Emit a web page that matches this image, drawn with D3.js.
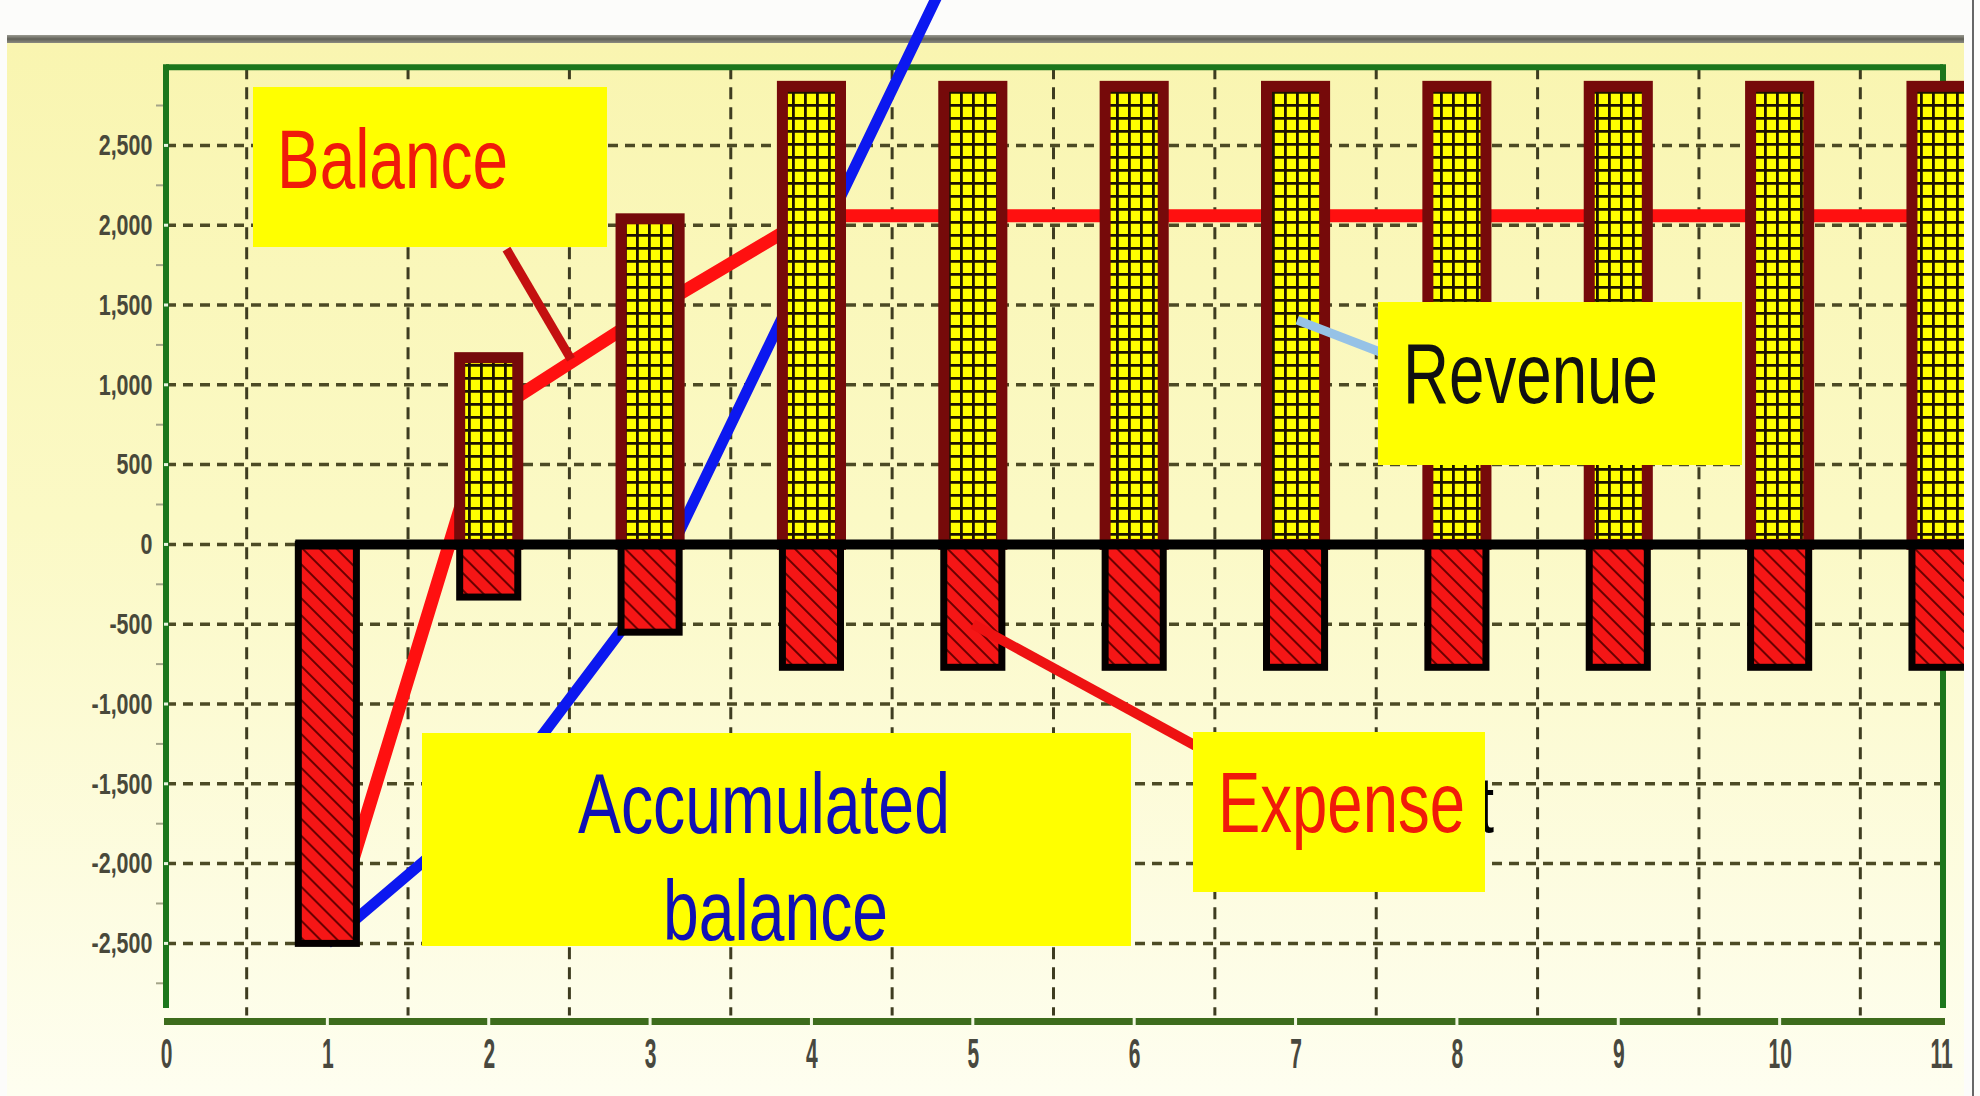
<!DOCTYPE html>
<html><head><meta charset="utf-8">
<script src="https://cdn.jsdelivr.net/npm/d3@7"></script>
<style>html,body{margin:0;padding:0;background:#fff;overflow:hidden}</style>
</head><body>
<svg id="chart" width="1980" height="1096"></svg>
<script>
// ---- data ----
const periods = [1, 2, 3, 4, 5, 6, 7, 8, 9, 10, 11];
const revenue = [0, 1170, 2040, 2870, 2870, 2870, 2870, 2870, 2870, 2870, 2870];
const expense = [-2500, -330, -550, -770, -770, -770, -770, -770, -770, -770, -770];
const balance = [-2500, 810, 1460, 2060, 2060, 2060, 2060, 2060, 2060, 2060, 2060];
const accumulatedPeriods = [1, 2, 3, 4, 5];
const accumulated = [-2500, -1640, -300, 1800, 3900];
const yTickValues = [-2500, -2000, -1500, -1000, -500, 0, 500, 1000, 1500, 2000, 2500];
const yMinorTickValues = [-2750, -2250, -1750, -1250, -750, -250, 250, 750, 1250, 1750, 2250, 2750];
const xTickValues = [0, 1, 2, 3, 4, 5, 6, 7, 8, 9, 10, 11];
const xGridValues = [0.5, 1.5, 2.5, 3.5, 4.5, 5.5, 6.5, 7.5, 8.5, 9.5, 10.5];
const labelBalance = "Balance";
const labelRevenue = "Revenue";
const labelExpense = "Expense";
const labelAccumulated = ["Accumulated", "balance"];

// ---- scales ----
const yLimit = 2990;
const x = d3.scaleLinear().domain([0, 11]).range([166, 1941]);
const y = d3.scaleLinear().domain([-yLimit, yLimit]).range([1021.6, 67.2]);

const svg = d3.select("#chart");
const defs = svg.append("defs");
const FONT = "'Liberation Sans', Arial, sans-serif";

const bg = defs.append("linearGradient").attr("id", "bg").attr("x1", 0).attr("y1", 0).attr("x2", 0).attr("y2", 1);
bg.append("stop").attr("offset", "0%").attr("stop-color", "#f9f5b0");
bg.append("stop").attr("offset", "45%").attr("stop-color", "#fbf9c5");
bg.append("stop").attr("offset", "100%").attr("stop-color", "#fefef0");

const grayBar = defs.append("linearGradient").attr("id", "gbar").attr("x1", 0).attr("y1", 0).attr("x2", 0).attr("y2", 1);
grayBar.append("stop").attr("offset", "0%").attr("stop-color", "#9a9a90");
grayBar.append("stop").attr("offset", "50%").attr("stop-color", "#626258");
grayBar.append("stop").attr("offset", "100%").attr("stop-color", "#8a8a80");

const grid = defs.append("pattern").attr("id", "grid").attr("patternUnits", "userSpaceOnUse").attr("width", 12).attr("height", 13);
grid.append("rect").attr("width", 12).attr("height", 13).attr("fill", "#ffff00");
grid.append("path").attr("d", "M0,1.4H12M1.4,0V13").attr("stroke", "#1c1200").attr("stroke-width", 2.8);

const hatch = defs.append("pattern").attr("id", "hatch").attr("patternUnits", "userSpaceOnUse")
  .attr("width", 12).attr("height", 12).attr("patternTransform", "rotate(-45)");
hatch.append("rect").attr("width", 12).attr("height", 12).attr("fill", "#f51616");
hatch.append("line").attr("x1", 6).attr("y1", 0).attr("x2", 6).attr("y2", 12).attr("stroke", "#6a0000").attr("stroke-width", 2);

defs.append("clipPath").attr("id", "clipR").append("rect").attr("x", 0).attr("y", 0).attr("width", 1964).attr("height", 1096);

// ---- background ----
svg.append("rect").attr("width", 1980).attr("height", 1096).attr("fill", "#fcfcfa");
svg.append("rect").attr("x", 7).attr("y", 43).attr("width", 1957).attr("height", 1053).attr("fill", "url(#bg)");
svg.append("rect").attr("x", 7).attr("y", 35).attr("width", 1957).attr("height", 8).attr("fill", "url(#gbar)");
svg.append("line").attr("x1", 1973).attr("x2", 1973).attr("y1", 0).attr("y2", 1096).attr("stroke", "#666").attr("stroke-width", 2);

// ---- gridlines ----
const gridG = svg.append("g");
gridG.selectAll("line.h").data(yTickValues).join("line").attr("class", "h")
  .attr("x1", x(0)).attr("x2", x(11)).attr("y1", d => y(d)).attr("y2", d => y(d))
  .attr("stroke", "#4c4a24").attr("stroke-width", 3.5).attr("stroke-dasharray", "10,7");
gridG.selectAll("line.v").data(xGridValues).join("line").attr("class", "v")
  .attr("x1", d => x(d)).attr("x2", d => x(d)).attr("y1", y(yLimit)).attr("y2", y(-yLimit) - 6)
  .attr("stroke", "#3e3c20").attr("stroke-width", 3).attr("stroke-dasharray", "12,8");

// ---- frame and axes (under the bars) ----
const frame = svg.append("g");
const green = "#1c761c";
frame.append("line").attr("x1", x(0)).attr("x2", x(11) + 2).attr("y1", y(yLimit)).attr("y2", y(yLimit))
  .attr("stroke", green).attr("stroke-width", 6);
frame.append("line").attr("x1", x(0)).attr("x2", x(0)).attr("y1", y(yLimit) - 3).attr("y2", 1008)
  .attr("stroke", green).attr("stroke-width", 6);
frame.append("line").attr("x1", x(11) + 2).attr("x2", x(11) + 2).attr("y1", y(yLimit) - 3).attr("y2", 1008)
  .attr("stroke", green).attr("stroke-width", 6);
frame.append("line").attr("x1", x(0) - 2).attr("x2", x(11) + 4).attr("y1", y(-yLimit)).attr("y2", y(-yLimit))
  .attr("stroke", "#3d6c1c").attr("stroke-width", 7);
frame.selectAll("rect.gap").data(xTickValues.slice(1, 11)).join("rect").attr("class", "gap")
  .attr("x", d => x(d) - 1.5).attr("y", y(-yLimit) - 4).attr("width", 3).attr("height", 8).attr("fill", "#f4f8e4");
frame.selectAll("line.minor").data(yMinorTickValues).join("line").attr("class", "minor")
  .attr("x1", x(0) - 10).attr("x2", x(0) - 3).attr("y1", d => y(d)).attr("y2", d => y(d))
  .attr("stroke", "#a4a488").attr("stroke-width", 2);
frame.selectAll("rect.notch").data(yTickValues).join("rect").attr("class", "notch")
  .attr("x", x(0) - 2).attr("y", d => y(d) - 1.5).attr("width", 4).attr("height", 3).attr("fill", "#e8f4e0");

// ---- lines (behind the bars) ----
const line = d3.line().x(d => x(d[0])).y(d => y(d[1]));
svg.append("path").datum(periods.map((p, i) => [p, balance[i]]))
  .attr("d", line).attr("fill", "none").attr("stroke", "#ff1010").attr("stroke-width", 13)
  .attr("stroke-linejoin", "round").attr("clip-path", "url(#clipR)");
svg.append("path").datum(accumulatedPeriods.map((p, i) => [p, accumulated[i]]))
  .attr("d", line).attr("fill", "none").attr("stroke", "#0c18f0").attr("stroke-width", 11)
  .attr("stroke-linejoin", "round");

// ---- bars ----
const barW = x(0.36) - x(0);
const barsG = svg.append("g").attr("clip-path", "url(#clipR)");
barsG.selectAll("rect.rev").data(periods.map((p, i) => ({ p, v: revenue[i] })).filter(d => d.v > 0)).join("rect")
  .attr("class", "rev")
  .attr("x", d => x(d.p) - barW / 2).attr("y", d => y(d.v))
  .attr("width", barW).attr("height", d => y(0) - y(d.v))
  .attr("fill", "url(#grid)").attr("stroke", "#760a0a").attr("stroke-width", 11);
barsG.selectAll("rect.exp").data(periods.map((p, i) => ({ p, v: expense[i] }))).join("rect")
  .attr("class", "exp")
  .attr("x", d => x(d.p) - barW / 2).attr("y", y(0))
  .attr("width", barW).attr("height", d => y(d.v) - y(0))
  .attr("fill", "url(#hatch)").attr("stroke", "#050000").attr("stroke-width", 7);
// zero line
svg.append("line").attr("x1", x(1) - barW / 2 - 3).attr("x2", 1964).attr("y1", y(0)).attr("y2", y(0))
  .attr("stroke", "#000").attr("stroke-width", 10);

// ---- axis labels ----
const fmt = v => d3.format(",")(v).replace("\u2212", "-");
const gy = svg.append("g").attr("transform", `translate(${x(0)},0)`)
  .call(d3.axisLeft(y).tickValues(yTickValues).tickFormat(fmt).tickSize(0));
gy.select(".domain").remove();
gy.selectAll("text").attr("font-family", FONT).attr("font-size", 29).attr("font-weight", "bold")
  .attr("fill", "#48483a").attr("x", -18.4).attr("transform", "scale(0.74,1)");

const gx = svg.append("g").attr("transform", `translate(0,${y(-yLimit)})`)
  .call(d3.axisBottom(x).tickValues(xTickValues).tickFormat(d3.format("d")).tickSize(0));
gx.select(".domain").remove();
gx.selectAll("text").attr("font-family", FONT).attr("font-size", 42).attr("font-weight", "bold")
  .attr("fill", "#48483e").attr("y", 46).attr("dy", 0).attr("transform", "scale(0.5,1)");

// ---- annotations ----
const ann = svg.append("g");
// leader lines
ann.append("line").attr("x1", x(2.11)).attr("y1", y(1850)).attr("x2", x(2.51)).attr("y2", y(1160))
  .attr("stroke", "#c41010").attr("stroke-width", 9);
ann.append("line").attr("x1", x(7.01)).attr("y1", y(1405)).attr("x2", 1380).attr("y2", 352)
  .attr("stroke", "#96c2e6").attr("stroke-width", 9);
ann.append("line").attr("x1", x(5.0)).attr("y1", y(-500)).attr("x2", 1196).attr("y2", 746)
  .attr("stroke", "#ee1212").attr("stroke-width", 10);

// text squeezed horizontally to the reference width via a transform
function label(txt, tx, ty, fs, len, color) {
  const t = ann.append("text").attr("font-family", FONT).attr("font-size", fs)
    .attr("fill", color).text(txt);
  const natural = t.node().getComputedTextLength();
  t.attr("transform", `translate(${tx},${ty}) scale(${len / natural},1)`);
  return t;
}
function box(x0, y0, x1, y1) {
  ann.append("rect").attr("x", x0).attr("y", y0).attr("width", x1 - x0).attr("height", y1 - y0).attr("fill", "#ffff00");
}

// fragment of a hidden label peeking out right of the Expense box
label("t", 1479, 832, 80, 15, "#000");

box(253, 87, 607, 247);
label(labelBalance, 277, 188, 84, 231, "#f01a0a");
box(1378, 302, 1742, 465);
label(labelRevenue, 1403, 403, 86, 255, "#111");
box(1193, 732, 1485, 892);
label(labelExpense, 1218, 832, 86, 247, "#f01a0a");
box(422, 733, 1131, 946);
label(labelAccumulated[0], 578, 833, 85, 372, "#1010b4");
label(labelAccumulated[1], 663, 940, 85, 225, "#1010b4");
</script>
</body></html>
